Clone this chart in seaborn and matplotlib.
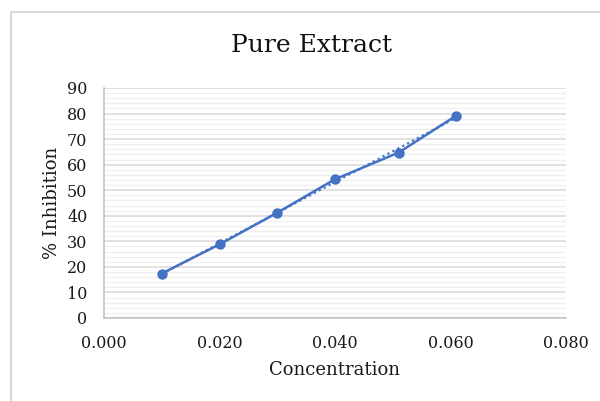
import matplotlib
matplotlib.use("Agg")
import matplotlib.pyplot as plt
import seaborn as sns
import pandas as pd
import numpy as np
from matplotlib.patches import Rectangle
from matplotlib.ticker import MultipleLocator

concentration = [0.010, 0.020, 0.030, 0.040, 0.051, 0.061]
inhibition = [17.4, 28.8, 41.2, 54.3, 64.7, 79.2]

title = "Pure Extract"
xlabel = "Concentration"
ylabel = "% Inhibition"

sns.set_theme(style="white")
plt.rcParams['font.family'] = ['DejaVu Serif']

df = pd.DataFrame({"x": concentration, "y": inhibition})
color = "#4472C4"

fig = plt.figure(figsize=(6.0, 4.01), dpi=100)
ax = fig.add_axes([104/600, 1-318/401, (566-104)/600, (318-88)/401])

# chart border
fig.patches.append(Rectangle((11/600, -0.5), 2.0, 1 - 12/401 + 0.5, transform=fig.transFigure,
                             fill=False, edgecolor="#d9d9d9", linewidth=1.5, zorder=0))

# trendline
sns.regplot(data=df, x="x", y="y", ax=ax, scatter=False, ci=None, truncate=True,
            line_kws=dict(color=color, linestyle=(0, (1, 1.5)), linewidth=1.6))
sns.lineplot(data=df, x="x", y="y", ax=ax, color=color, linewidth=1.8,
             marker="o", markersize=7.5, markeredgewidth=0, markerfacecolor=color)

ax.set_xlim(0, 0.08)
ax.set_ylim(0, 90)
ax.xaxis.set_major_locator(MultipleLocator(0.02))
ax.yaxis.set_major_locator(MultipleLocator(10))
ax.yaxis.set_minor_locator(MultipleLocator(2))
ax.set_xticklabels([f"{v:.3f}" for v in ax.get_xticks()])
ax.grid(which="major", axis="y", color="#d9d9d9", linewidth=1.1)
ax.grid(which="minor", axis="y", color="#f0f0f0", linewidth=1.0)
ax.grid(which="major", axis="x", visible=False)
ax.set_axisbelow(True)

for s in ["top", "right"]:
    ax.spines[s].set_visible(False)
for s in ["left", "bottom"]:
    ax.spines[s].set_color("#bfbfbf")
    ax.spines[s].set_linewidth(1.1)

ax.tick_params(axis="both", which="major", direction="out", length=5, width=1,
               color="#bfbfbf", labelsize=11.5, labelcolor="#1a1a1a")
ax.tick_params(axis="x", which="major", pad=7)
ax.tick_params(axis="y", which="major", pad=7)
ax.tick_params(axis="y", which="minor", length=0)

ax.set_xlabel(xlabel, fontsize=13, color="#1a1a1a", labelpad=7)
ax.set_ylabel(ylabel, fontsize=13, color="#1a1a1a", labelpad=4)
fig.text(312/600, 1-46/401, title, ha="center", va="center", fontsize=18, color="#111111")

fig.savefig("out.png", dpi=100)
